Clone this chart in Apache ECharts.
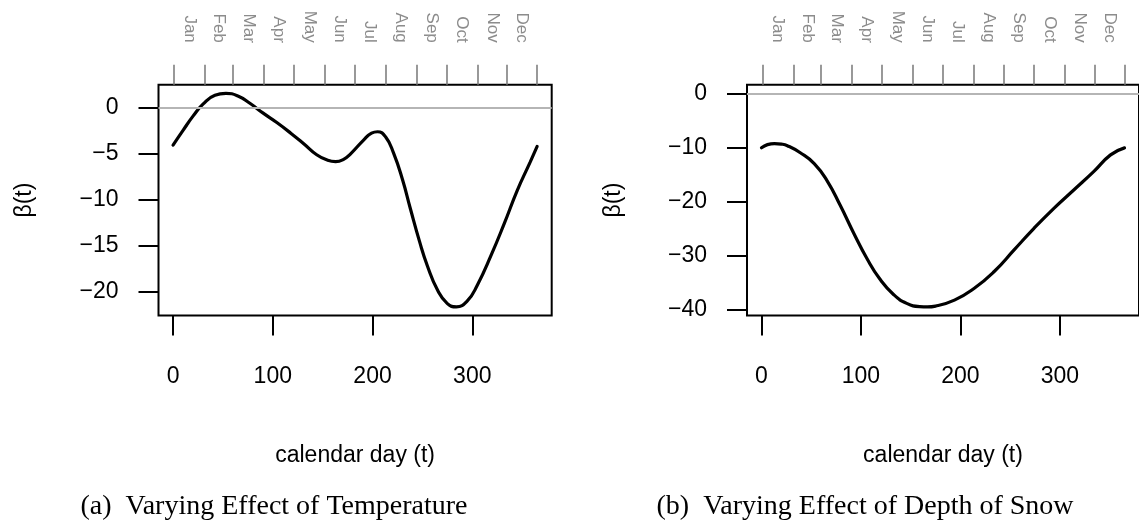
<!DOCTYPE html>
<html>
<head>
<meta charset="utf-8">
<script src="https://cdn.jsdelivr.net/npm/echarts@6/dist/echarts.min.js"></script>
<style>
html,body{margin:0;padding:0;background:#fff;}
#c{width:1139px;height:526px;}
</style>
</head>
<body>
<div id="c"></div>
<script>
// ---- data ----
const monthNames = ['Jan','Feb','Mar','Apr','May','Jun','Jul','Aug','Sep','Oct','Nov','Dec'];
const monthStarts = [1,32,60,91,121,152,182,213,244,274,305,335,365];
const monthMids = [16.5,46,75.5,106,136.5,167,197.5,228.5,259,289.5,320,350];
const dayTicks = [0,100,200,300];

const tempDays   = [0,10,20,30,42,53,65,77,90,104,118,131,144,155,163,171,178,191,199,205,213,221,230,238,247,255,265,275,284,295,305,319,332,345,358,365];
const tempValues = [-4.05,-2.45,-0.9,0.4,1.38,1.58,1.3,0.5,-0.55,-1.6,-2.75,-3.9,-5.1,-5.7,-5.85,-5.6,-5.0,-3.5,-2.75,-2.6,-3.15,-4.9,-7.8,-11.0,-14.5,-17.2,-19.8,-21.3,-21.65,-21.0,-19.3,-16.0,-12.6,-9.0,-5.9,-4.2];
const tempTicks  = [0,-5,-10,-15,-20];

const snowDays   = [0,6,13,20,26,39,53,66,79,93,106,119,133,146,159,167,175,194,214,234,254,274,294,314,334,351,365];
const snowValues = [-10.07,-9.5,-9.3,-9.4,-9.7,-11.0,-13.0,-16.2,-20.7,-26.0,-30.6,-34.4,-37.3,-38.9,-39.5,-39.55,-39.4,-38.3,-36.1,-33.0,-29.0,-25.0,-21.3,-17.9,-14.5,-11.4,-10.1];
const snowTicks  = [0,-10,-20,-30,-40];

const zeroLine = 0;
const captions = ['(a)  Varying Effect of Temperature', '(b)  Varying Effect of Depth of Snow'];
const xTitle = 'calendar day (t)';
const yTitle = '\u03B2(t)';

// ---- layout ----
const SANS = '"Liberation Sans", Arial, Helvetica, sans-serif';
const SERIF = '"Liberation Serif", "Times New Roman", serif';
const xMin = -14.6, xMax = 379.6;
const panels = [
  {left:158.5, days:tempDays, values:tempValues, ticks:tempTicks, yMin:-22.58, yMax:2.51, capX:274},
  {left:747,   days:snowDays, values:snowValues, ticks:snowTicks, yMin:-41.13, yMax:1.58, capX:865}
];
const fmtNum = v => v < 0 ? '\u2212' + Math.abs(v) : String(v);

const grid = [], xAxis = [], yAxis = [], series = [], graphic = [];
panels.forEach((p, i) => {
  grid.push({left:p.left, top:84.8, width:393.2, height:230.6, show:true,
             borderColor:'#000', borderWidth:2, backgroundColor:'transparent', containLabel:false});
  // bottom axis
  xAxis.push({type:'value', gridIndex:i, position:'bottom', min:xMin, max:xMax,
    axisLine:{show:false, onZero:false}, splitLine:{show:false},
    axisTick:{show:true, customValues:dayTicks, length:20, lineStyle:{color:'#000', width:2}},
    axisLabel:{show:true, customValues:dayTicks, margin:50, fontSize:23, fontFamily:SANS, color:'#000'},
    name:xTitle, nameLocation:'middle', nameGap:129,
    nameTextStyle:{fontSize:23, fontFamily:SANS, color:'#000'}});
  // top month axis
  xAxis.push({type:'value', gridIndex:i, position:'top', min:xMin, max:xMax,
    axisLine:{show:false, onZero:false}, splitLine:{show:false},
    axisTick:{show:true, customValues:monthStarts, length:20, lineStyle:{color:'#7f7f7f', width:1.6}},
    axisLabel:{show:true, customValues:monthMids, rotate:90, margin:42, fontSize:17,
      fontFamily:SANS, color:'#8c8c8c',
      formatter:(v) => { const k = monthMids.indexOf(v); return k >= 0 ? monthNames[k] : ''; }}});
  yAxis.push({type:'value', gridIndex:i, min:p.yMin, max:p.yMax,
    axisLine:{show:false, onZero:false}, splitLine:{show:false},
    axisTick:{show:true, customValues:p.ticks, length:20, lineStyle:{color:'#000', width:2}},
    axisLabel:{show:true, customValues:p.ticks, margin:40, fontSize:23, fontFamily:SANS, color:'#000',
      formatter:fmtNum},
    name:yTitle, nameLocation:'middle', nameGap:122,
    nameTextStyle:{fontSize:23, fontFamily:SANS, color:'#000'}});
  // zero reference line
  series.push({type:'line', xAxisIndex:2*i, yAxisIndex:i, data:[], z:1, silent:true,
    markLine:{silent:true, symbol:['none','none'], label:{show:false},
      lineStyle:{color:'#b5b5b5', width:2, type:'solid'}, emphasis:{disabled:true},
      data:[{yAxis:zeroLine}]}});
  // curve
  series.push({type:'line', xAxisIndex:2*i, yAxisIndex:i, z:3, silent:true,
    data:p.days.map((d, k) => [d, p.values[k]]),
    smooth:0.5, showSymbol:false, lineStyle:{color:'#000', width:3.2, cap:'round'}});
  graphic.push({type:'text', x:p.capX, y:507,
    style:{text:captions[i], font:'28px ' + SERIF, fill:'#000', textAlign:'center', textVerticalAlign:'middle'}});
});

const chart = echarts.init(document.getElementById('c'), null, {renderer:'canvas'});
chart.setOption({animation:false, backgroundColor:'#fff', grid, xAxis, yAxis, series, graphic});
</script>
</body>
</html>
